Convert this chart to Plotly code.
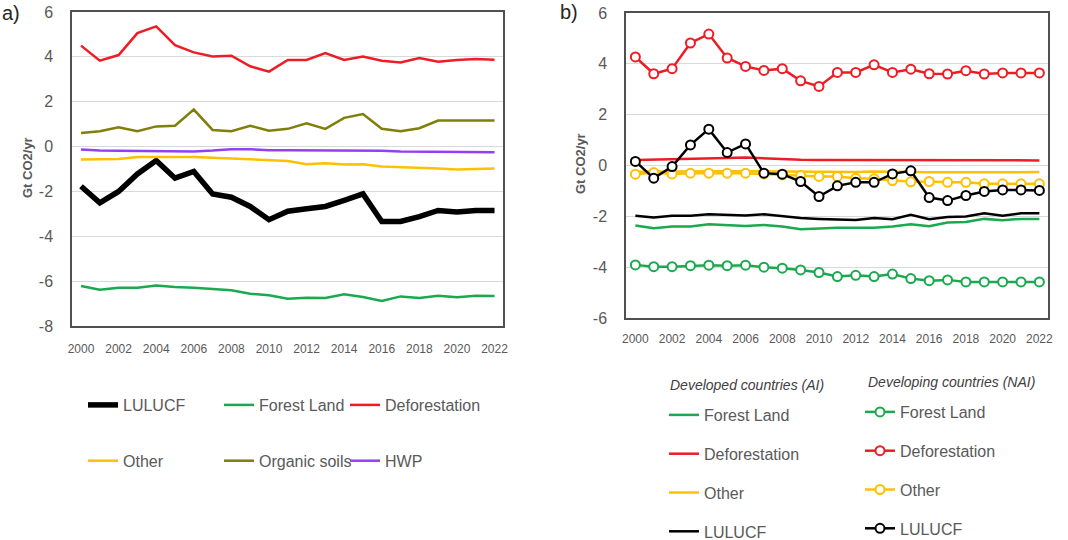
import plotly.graph_objects as go

W, H = 1068, 540
years = list(range(2000, 2023))

# Panel a) global series (Gt CO2/yr)
a_lulucf = [-1.77, -2.51, -2.00, -1.22, -0.62, -1.41, -1.11, -2.11, -2.26, -2.67, -3.26, -2.88,
            -2.77, -2.67, -2.40, -2.11, -3.34, -3.34, -3.12, -2.85, -2.92, -2.85, -2.85]
a_forest = [-6.22, -6.38, -6.29, -6.29, -6.19, -6.26, -6.29, -6.34, -6.41, -6.56, -6.63, -6.78,
            -6.74, -6.75, -6.59, -6.71, -6.88, -6.68, -6.75, -6.65, -6.72, -6.65, -6.66]
a_defor = [4.50, 3.83, 4.08, 5.06, 5.36, 4.52, 4.20, 4.02, 4.05, 3.58, 3.34, 3.86,
           3.86, 4.17, 3.86, 4.02, 3.83, 3.75, 3.95, 3.78, 3.86, 3.90, 3.87]
a_other = [-0.58, -0.58, -0.55, -0.47, -0.46, -0.46, -0.46, -0.50, -0.53, -0.55, -0.61, -0.64,
           -0.79, -0.74, -0.80, -0.79, -0.89, -0.92, -0.92, -0.98, -1.02, -1.00, -0.98]
a_organic = [0.61, 0.68, 0.86, 0.68, 0.90, 0.93, 1.65, 0.74, 0.68, 0.93, 0.71, 0.79,
             1.04, 0.79, 1.28, 1.45, 0.79, 0.68, 0.82, 1.16, 1.16, 1.16, 1.16]
a_hwp = [-0.13, -0.18, -0.19, -0.20, -0.18, -0.20, -0.22, -0.18, -0.12, -0.12, -0.16, -0.16,
         -0.16, -0.16, -0.18, -0.18, -0.19, -0.22, -0.22, -0.22, -0.22, -0.24, -0.25]

# Panel b) Developed countries (AI)
ai_forest = [-2.36, -2.47, -2.40, -2.40, -2.31, -2.34, -2.38, -2.34, -2.40, -2.51, -2.48, -2.45,
             -2.45, -2.45, -2.40, -2.31, -2.39, -2.24, -2.22, -2.10, -2.15, -2.10, -2.10]
ai_defor = [0.22, 0.24, 0.26, 0.27, 0.29, 0.30, 0.31, 0.28, 0.25, 0.23, 0.22, 0.22,
            0.22, 0.22, 0.22, 0.22, 0.22, 0.21, 0.21, 0.21, 0.21, 0.20, 0.20]
ai_other = [-0.25, -0.24, -0.24, -0.23, -0.23, -0.23, -0.22, -0.23, -0.24, -0.25, -0.26, -0.27,
            -0.26, -0.24, -0.24, -0.26, -0.27, -0.27, -0.26, -0.26, -0.26, -0.26, -0.26]
ai_lulucf = [-1.98, -2.05, -1.98, -1.98, -1.92, -1.94, -1.97, -1.92, -1.98, -2.07, -2.10, -2.11,
             -2.14, -2.07, -2.11, -1.94, -2.11, -2.03, -2.01, -1.88, -1.98, -1.88, -1.88]

# Panel b) Developing countries (NAI)
nai_forest = [-3.91, -3.98, -3.98, -3.94, -3.92, -3.94, -3.92, -4.00, -4.04, -4.11, -4.21, -4.37,
              -4.32, -4.37, -4.27, -4.45, -4.53, -4.50, -4.58, -4.58, -4.58, -4.58, -4.58]
nai_defor = [4.27, 3.61, 3.81, 4.82, 5.17, 4.23, 3.90, 3.74, 3.81, 3.33, 3.11, 3.66,
             3.66, 3.96, 3.66, 3.79, 3.61, 3.60, 3.73, 3.60, 3.64, 3.64, 3.64]
nai_other = [-0.34, -0.28, -0.33, -0.30, -0.30, -0.30, -0.30, -0.33, -0.37, -0.39, -0.43, -0.43,
             -0.50, -0.52, -0.59, -0.64, -0.63, -0.66, -0.66, -0.72, -0.72, -0.72, -0.72]
nai_lulucf = [0.16, -0.50, -0.04, 0.81, 1.43, 0.51, 0.85, -0.30, -0.34, -0.63, -1.22, -0.80,
              -0.66, -0.66, -0.33, -0.21, -1.26, -1.38, -1.18, -1.02, -0.96, -0.96, -0.98]

# tick labels (hyphen-minus as in the original)
ya_vals = [-8, -6, -4, -2, 0, 2, 4, 6]
ya_text = ["-8", "-6", "-4", "-2", "0", "2", "4", "6"]
yb_vals = [-6, -4, -2, 0, 2, 4, 6]
yb_text = ["-6", "-4", "-2", "0", "2", "4", "6"]
x_ticks = years[::2]

GREEN = "#1aa94f"
RED = "#ee1c25"
YELLOW = "#ffc000"
OLIVE = "#7f7f0a"
PURPLE = "#9340f5"
BLACK = "#000000"
GRAY = "#595959"
FONT = "Liberation Sans, Arial, sans-serif"

fig = go.Figure()

def px_x(p):
    return p / W

def px_y(p):
    return 1 - p / H

# panel a traces
a_series = [
    ("LULUCF", a_lulucf, BLACK, 5.5, "legend"),
    ("Other", a_other, YELLOW, 2.5, "legend"),
    ("Forest Land", a_forest, GREEN, 2.5, "legend2"),
    ("Organic soils", a_organic, OLIVE, 2.5, "legend2"),
    ("Deforestation", a_defor, RED, 2.5, "legend3"),
    ("HWP", a_hwp, PURPLE, 2.5, "legend3"),
]
for i, (name, vals, col, lw, leg) in enumerate(a_series):
    fig.add_trace(go.Scatter(x=years, y=vals, mode="lines", name=name,
                             line=dict(color=col, width=lw), xaxis="x", yaxis="y",
                             legend=leg, legendgroup="a%d" % i))

# panel b traces (AI lines)
b_ai = [("Forest Land", ai_forest, GREEN), ("Deforestation", ai_defor, RED),
        ("Other", ai_other, YELLOW), ("LULUCF", ai_lulucf, BLACK)]
for i, (name, vals, col) in enumerate(b_ai):
    fig.add_trace(go.Scatter(x=years, y=vals, mode="lines", name=name,
                             line=dict(color=col, width=2.5), xaxis="x2", yaxis="y2",
                             legend="legend4", legendgroup="ai%d" % i))
b_nai = [("Forest Land", nai_forest, GREEN), ("Deforestation", nai_defor, RED),
         ("Other", nai_other, YELLOW), ("LULUCF", nai_lulucf, BLACK)]
for i, (name, vals, col) in enumerate(b_nai):
    fig.add_trace(go.Scatter(x=years, y=vals, mode="lines+markers", name=name,
                             line=dict(color=col, width=2.5),
                             marker=dict(symbol="circle", size=9, color="white",
                                         line=dict(color=col, width=2)),
                             xaxis="x2", yaxis="y2",
                             legend="legend5", legendgroup="nai%d" % i))

axis_common = dict(showline=True, mirror=True, linecolor="#505050", linewidth=1.5,
                   ticks="", zeroline=False, automargin=False)

fig.update_layout(
    width=W, height=H,
    margin=dict(l=0, r=0, t=0, b=0, autoexpand=False),
    paper_bgcolor="white", plot_bgcolor="white",
    font=dict(family=FONT, color=GRAY),
    xaxis=dict(domain=[px_x(72), px_x(503)], range=[1999.52, 2022.45], tickvals=x_ticks,
               showgrid=False, tickfont=dict(size=12, color=GRAY), ticklabelstandoff=11,
               anchor="y", **axis_common),
    yaxis=dict(domain=[px_y(326), px_y(12)], range=[-8, 6], tickvals=ya_vals, ticktext=ya_text,
               showgrid=True, gridcolor="#d9d9d9", gridwidth=1,
               tickfont=dict(size=16, color=GRAY), ticklabelstandoff=14, anchor="x",
               **axis_common),
    xaxis2=dict(domain=[px_x(626), px_x(1048)], range=[1999.49, 2022.47], tickvals=x_ticks,
                showgrid=False, tickfont=dict(size=12, color=GRAY), ticklabelstandoff=9,
                anchor="y2", **axis_common),
    yaxis2=dict(domain=[px_y(318), px_y(13)], range=[-6, 6], tickvals=yb_vals, ticktext=yb_text,
                showgrid=True, gridcolor="#d9d9d9", gridwidth=1,
                tickfont=dict(size=16, color=GRAY), ticklabelstandoff=14, anchor="x2",
                **axis_common),
    showlegend=True,
)

leg_common = dict(yanchor="top", xanchor="left", bgcolor="rgba(0,0,0,0)",
                  xref="container", yref="container", traceorder="grouped", itemwidth=30,
                  font=dict(family=FONT, size=16, color=GRAY))
fig.update_layout(
    legend=dict(x=px_x(83), y=px_y(388), tracegroupgap=32, **leg_common),
    legend2=dict(x=px_x(219), y=px_y(388), tracegroupgap=32, **leg_common),
    legend3=dict(x=px_x(345), y=px_y(388), tracegroupgap=32, **leg_common),
    legend4=dict(x=px_x(664), y=px_y(398), tracegroupgap=15, **leg_common),
    legend5=dict(x=px_x(860), y=px_y(395), tracegroupgap=15, **leg_common),
)

anns = [
    dict(text="a)", x=px_x(0), y=px_y(13), xanchor="left", yanchor="middle",
         font=dict(size=20, color="#262626")),
    dict(text="b)", x=px_x(558), y=px_y(12), xanchor="left", yanchor="middle",
         font=dict(size=20, color="#262626")),
    dict(text="<b>Gt CO2/yr</b>", x=px_x(27), y=px_y(168), textangle=-90,
         xanchor="center", yanchor="middle", font=dict(size=13, color=GRAY)),
    dict(text="<b>Gt CO2/yr</b>", x=px_x(580), y=px_y(164), textangle=-90,
         xanchor="center", yanchor="middle", font=dict(size=13, color=GRAY)),
    dict(text="<i>Developed countries (AI)</i>", x=px_x(668), y=px_y(385),
         xanchor="left", yanchor="middle", font=dict(size=14, color="#404040")),
    dict(text="<i>Developing countries (NAI)</i>", x=px_x(866), y=px_y(382),
         xanchor="left", yanchor="middle", font=dict(size=14, color="#404040")),
]
for a in anns:
    a.update(xref="paper", yref="paper", showarrow=False)
fig.update_layout(annotations=anns)

fig.write_html("out.html")
